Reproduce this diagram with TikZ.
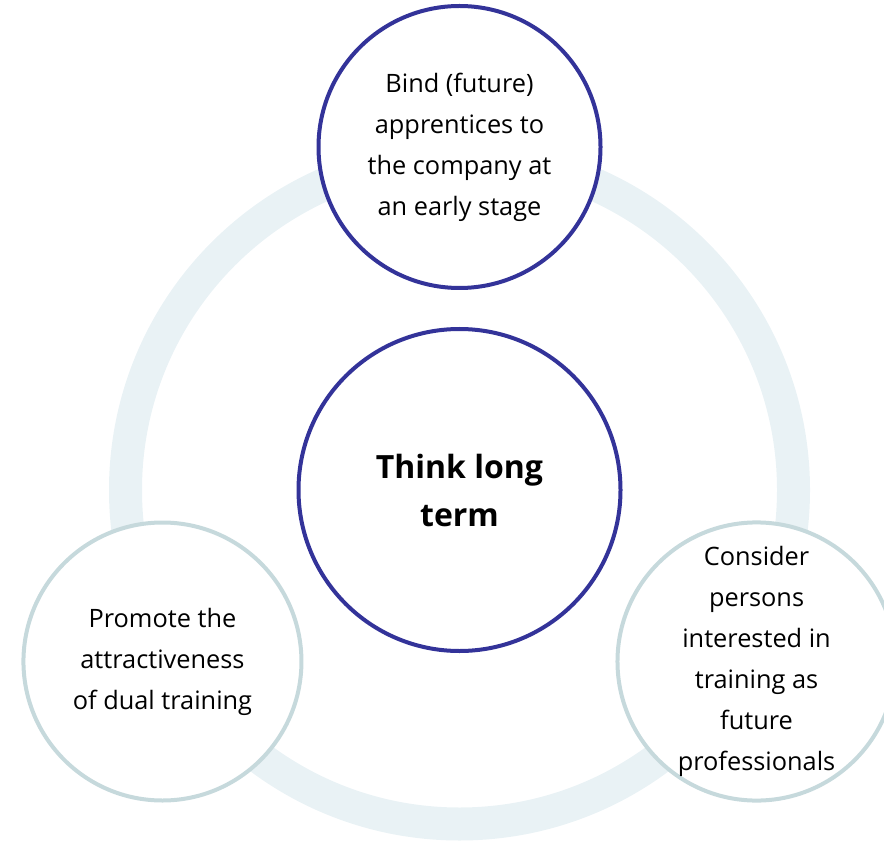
\documentclass[tikz,border=0pt]{standalone}
\usepackage{fontspec}
\setmainfont{Open Sans}
\usetikzlibrary{positioning,calc,backgrounds}

\definecolor{ringblue}{HTML}{E9F2F5}
\definecolor{hubblue}{HTML}{333399}
\definecolor{satgray}{HTML}{C6D9DC}

\tikzset{
  hub/.style={circle, draw=hubblue, line width=3pt, fill=white, inner sep=0pt,
    align=center, font=\fontsize{24pt}{36pt}\selectfont\bfseries},
  goal/.style={circle, draw=hubblue, line width=3pt, fill=white, inner sep=0pt,
    minimum size=211.5pt, align=center, font=\fontsize{19pt}{30.75pt}\selectfont},
  satellite/.style={circle, draw=satgray, line width=3pt, fill=white, inner sep=0pt,
    minimum size=208.5pt, align=center, font=\fontsize{19pt}{30.75pt}\selectfont},
  ring/.style={draw=ringblue, line width=24.75pt}
}

\begin{document}
\begin{tikzpicture}[x=0.75pt, y=0.75pt]
    \useasboundingbox (0,0) rectangle (884,840);
    \node (think) [hub, minimum size=241.5pt] at (459.5,350) {Think long\\term};
    \path (think) ++(90:343) node (bind) [goal] {Bind (future)\\apprentices to\\the company at\\an early stage};
    \path (think) ++(210:343) node (promote) [satellite] {Promote the\\attractiveness\\of dual training};
    \path (think) ++(330:343) node (consider) [satellite] {Consider\\persons\\interested in\\training as\\future\\professionals};
    \begin{scope}[on background layer]
      \draw[ring] (think.center) circle (334);
    \end{scope}
\end{tikzpicture}
\end{document}
